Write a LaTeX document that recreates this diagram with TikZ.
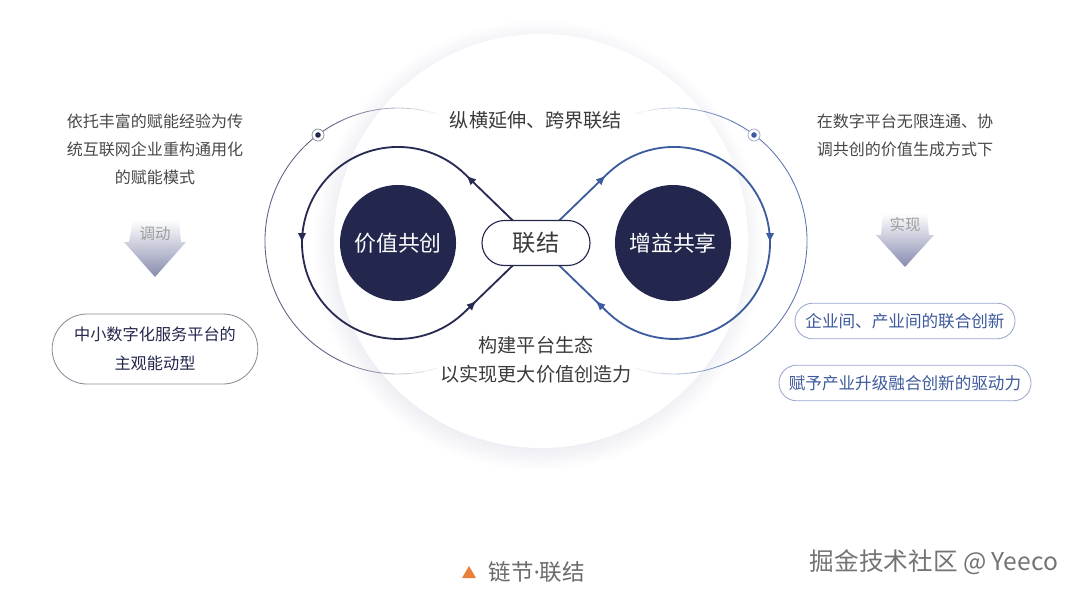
\documentclass[tikz,border=0pt]{standalone}
\usepackage{fontspec}
\setmainfont{Noto Sans CJK SC}
\newfontfamily\latinfont{Noto Sans}
\usetikzlibrary{arrows.meta,decorations.markings,shapes.misc}

\definecolor{navy}{HTML}{24274D}
\definecolor{loopL}{HTML}{282B51}
\definecolor{loopR}{HTML}{3D5C9F}
\definecolor{ringL}{HTML}{5C5E7E}
\definecolor{ringR}{HTML}{5A73AE}
\definecolor{inkgray}{HTML}{3A3A3A}
\definecolor{softgray}{HTML}{474747}
\definecolor{haloc}{HTML}{E8E9F0}
\definecolor{cuec}{HTML}{878BAE}
\definecolor{pillL}{HTML}{8C8C98}
\definecolor{pillR}{HTML}{98A7CE}
\definecolor{textR}{HTML}{3D5A9C}
\definecolor{accent}{HTML}{E8803A}

\pgfdeclareradialshading{halo}{\pgfpoint{0bp}{0bp}}{color(0bp)=(haloc); color(21.5bp)=(haloc); color(25bp)=(white); color(50bp)=(white)}

\begin{document}
\begin{tikzpicture}[x=0.025cm,y=0.025cm,>=Latex,
  hub/.style={circle, fill=navy, text=white, minimum size=2.9cm, font=\fontsize{15.5}{18}\selectfont},
  linkpill/.style={rounded rectangle, draw=navy, line width=0.8pt, fill=white, minimum width=2.7cm, minimum height=1.125cm, inner sep=0pt, text=inkgray, font=\fontsize{16.5}{18}\selectfont},
  note/.style={align=center, text=softgray, font=\fontsize{11.4}{19.9}\selectfont},
  midnote/.style={align=center, text=inkgray, font=\fontsize{13.6}{20.6}\selectfont},
  leftpill/.style={rounded rectangle, draw=pillL, line width=0.6pt, fill=white, align=center, text=navy, minimum width=5.375cm, minimum height=1.75cm, font=\fontsize{11.5}{20.5}\selectfont},
  rightpill/.style={rounded rectangle, draw=pillR, line width=0.6pt, fill=white, text=textR, minimum height=0.89cm, inner sep=0pt, font=\fontsize{11.8}{14}\selectfont},
  dotring/.style={circle, draw=#1!55, fill=white, line width=0.5pt, minimum size=0.3cm, inner sep=0pt,
    path picture={\fill[#1] (path picture bounding box.center) circle (2.8);}},
  cue/.style={text=black!38, font=\fontsize{11}{13}\selectfont},
  flowmarks/.style={postaction={decorate}, decoration={markings,
    mark=at position 0.15 with {\arrow{Latex[length=7pt,width=6pt]}},
    mark=at position 0.5 with {\arrow{Latex[length=7pt,width=6pt]}},
    mark=at position 0.872 with {\arrow{Latex[length=7pt,width=6pt]}}}}
]
\useasboundingbox (0,0) rectangle (1080,-595);

% big backdrop disc
\shade[shading=halo] (538,-245) circle (226);
\fill[white] (541,-241) circle (207);

% thin outer orbits, faded at their ends
\draw[ringL, line width=0.6pt] (398,-241) ++(115:133) arc[start angle=115, end angle=245, radius=133];
\draw[ringR, line width=0.6pt] (674,-241) ++(65:133) arc[start angle=65, end angle=-65, radius=133];
\foreach \k in {0,...,6} {
  \pgfmathsetmacro\op{0.1+0.13*\k}
  \pgfmathsetmacro\aa{73+6*\k}
  \pgfmathsetmacro\ab{287-6*\k}
  \pgfmathsetmacro\ba{107-6*\k}
  \pgfmathsetmacro\bb{-107+6*\k}
  \draw[ringL, line width=0.6pt, opacity=\op] (398,-241) ++(\aa:133) arc[start angle=\aa, end angle=\aa+6, radius=133];
  \draw[ringL, line width=0.6pt, opacity=\op] (398,-241) ++(\ab:133) arc[start angle=\ab, end angle=\ab-6, radius=133];
  \draw[ringR, line width=0.6pt, opacity=\op] (674,-241) ++(\ba:133) arc[start angle=\ba, end angle=\ba-6, radius=133];
  \draw[ringR, line width=0.6pt, opacity=\op] (674,-241) ++(\bb:133) arc[start angle=\bb, end angle=\bb+6, radius=133];
}
\node[dotring=navy] (dotL) at (318,-135) {};
\node[dotring=loopR] (dotR) at (754,-135) {};

% the figure-eight loop
\coordinate (cross) at (536,-243);
\draw[loopL, line width=1.3pt, flowmarks]
  (cross) -- ++(-71.2,69) arc[start angle=45.9, end angle=314.1, radius=96] -- (cross);
\draw[loopR, line width=1.3pt, flowmarks]
  (cross) -- ++(71.2,69) arc[start angle=134.1, end angle=-134.1, radius=96] -- (cross);

\node[hub] (cocreate) at (398,-243) {价值共创};
\node[hub] (share) at (673,-243) {增益共享};
\node[linkpill] (link) at (cross) {联结};

\node[midnote] (across) at (536,-120) {纵横延伸、跨界联结};
\node[midnote] (build) at (536,-360) {构建平台生态\\以实现更大价值创造力};

% left column
\node[note] (leftnote) at (155,-149) {依托丰富的赋能经验为传\\统互联网企业重构通用化\\的赋能模式};
\shade[top color=white, bottom color=cuec]
  (133,-220) -- (179,-220) -- (181,-242) -- (186,-242) -- (155,-277) -- (124,-242) -- (129,-242) -- cycle;
\node[cue] (stir) at (155,-234) {调动};
\node[leftpill] (mode) at (155,-349) {中小数字化服务平台的\\主观能动型};

% right column
\node[note] (rightnote) at (905,-135) {在数字平台无限连通、协\\调共创的价值生成方式下};
\shade[top color=white, bottom color=cuec]
  (883,-213) -- (927,-213) -- (929,-235) -- (934,-235) -- (905,-267) -- (876,-235) -- (881,-235) -- cycle;
\node[cue] (reach) at (905,-225) {实现};
\node[rightpill, minimum width=5.5cm] (joint) at (905,-321) {企业间、产业间的联合创新};
\node[rightpill, minimum width=6.3cm] (drive) at (905,-383) {赋予产业升级融合创新的驱动力};

% caption and mark
\fill[accent] (462,-578) -- (476,-578) -- (469,-566) -- cycle;
\node[anchor=west, text=black!58, font=\fontsize{16}{18}\selectfont] (caption) at (484,-572) {链节{\latinfont ·}联结};
\node[text=black!55, font=\fontsize{17.5}{20}\selectfont] (credit) at (934,-562) {掘金技术社区 @ Yeeco};
\end{tikzpicture}
\end{document}
